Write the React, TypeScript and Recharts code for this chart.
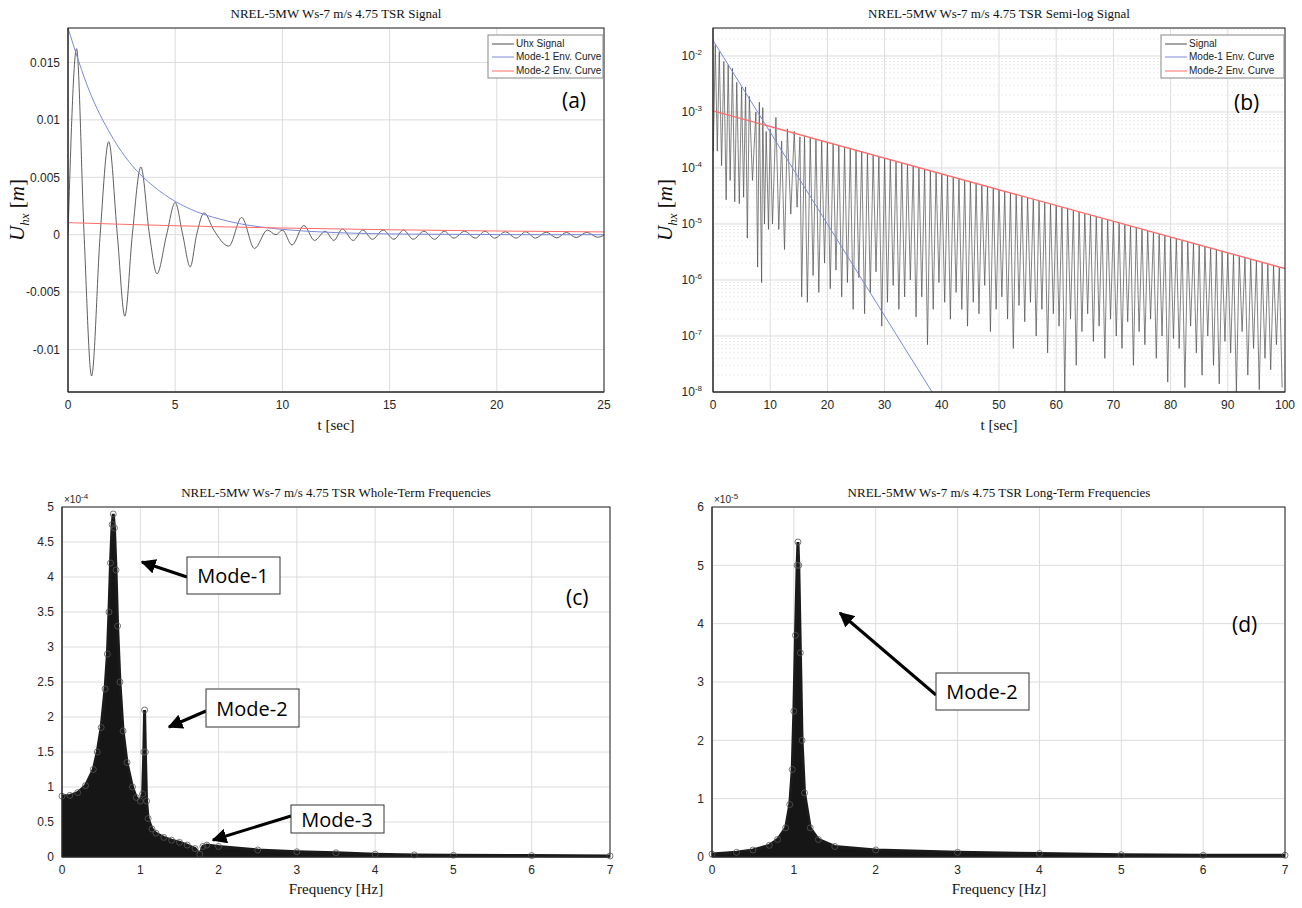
import React from "react";
import {
  ComposedChart,
  Line,
  Area,
  XAxis,
  YAxis,
  CartesianGrid,
  ReferenceLine,
} from "recharts";

// ---------- (a) signal, linear ----------
const sigAT = [0, 0.4, 0.75, 1.1, 1.5, 1.9, 2.3, 2.65, 3.0, 3.4, 3.8, 4.15, 4.6, 5.0, 5.35, 5.7, 6.0, 6.35, 6.8, 7.5, 8.1, 8.7, 9.3, 9.7, 10.0, 10.45, 11.0, 11.5, 12.0, 12.4, 12.8, 13.3, 13.75, 14.2, 14.7, 15.2, 15.65, 16.1, 16.6, 17.1, 17.55, 18.0, 18.5, 19.0, 19.45, 19.9, 20.4, 20.9, 21.35, 21.8, 22.3, 22.8, 23.25, 23.7, 24.2, 24.7, 25];
const sigAU = [0, 0.0162, 0, -0.0123, 0, 0.0081, 0, -0.0071, 0, 0.0059, 0, -0.0034, 0, 0.0028, 0, -0.0028, 0, 0.0019, 0.0004, -0.001, 0.0015, -0.0012, 0.0004, 0, 0.0004, -0.0009, 0.0008, -0.0005, 0.0003, -0.0005, 0.0005, -0.0005, 0.0004, -0.0004, 0.0004, -0.0004, 0.0004, -0.0004, 0.0003, -0.0004, 0.0003, -0.0003, 0.0003, -0.0003, 0.0003, -0.0003, 0.00025, -0.0003, 0.00025, -0.0003, 0.00022, -0.00028, 0.0002, -0.00025, 0.0002, -0.00022, -0.00005];
const env1AT = [0, 1, 2, 3, 4, 5, 6, 7, 8, 9, 10, 12, 14, 16, 18, 20, 22, 25];
const env1AU = [0.018, 0.0125, 0.0087, 0.006, 0.0042, 0.0029, 0.002, 0.0014, 0.00096, 0.00067, 0.00046, 0.00022, 0.0001, 0.00005, 0.00003, 0.00001, 0, 0];
const env2AT = [0, 5, 10, 15, 20, 25];
const env2AU = [0.00105, 0.00078, 0.00058, 0.00043, 0.00032, 0.00024];

// ---------- (b) signal, semi-log ----------
const earlyBT = [0.05, 0.4, 0.75, 1.1, 1.5, 1.9, 2.3, 2.65, 3.0, 3.4, 3.8, 4.15, 4.6, 5.0, 5.35, 5.7, 6.0, 6.35, 6.9, 7.5, 7.8, 8.1, 8.5, 8.7, 9.0, 9.3, 9.7, 10.0, 10.4, 11.0, 11.5, 12.0, 12.5, 13.0, 13.6, 14.2, 14.7, 15.2, 15.5];
const earlyBV = [2e-4, 1.6e-2, 2e-4, 1.2e-2, 1.1e-4, 8e-3, 2.7e-5, 7e-3, 6e-5, 6e-3, 2.5e-5, 3.4e-3, 2.3e-5, 2.8e-3, 3e-5, 2.8e-3, 5.6e-6, 1.9e-3, 6e-5, 1e-3, 1.7e-6, 1.5e-3, 9e-7, 1.2e-3, 1e-5, 4.5e-4, 8e-6, 5e-4, 1e-5, 8e-4, 8e-6, 3e-4, 3.5e-6, 5e-4, 1.5e-5, 4.5e-4, 2e-5, 3.6e-4, 5e-7];
const peakStartB = 16;
const peakB = [
  3.7e-4, 3.5e-4, 3.25e-4, 3.05e-4, 2.86e-4, 2.68e-4, 2.5e-4, 2.35e-4, 2.2e-4, 2.06e-4,
  1.93e-4, 1.81e-4, 1.7e-4, 1.59e-4, 1.49e-4, 1.4e-4, 1.31e-4, 1.23e-4, 1.15e-4, 1.08e-4,
  1.01e-4, 9.45e-5, 8.86e-5, 8.3e-5, 7.78e-5, 7.29e-5, 6.83e-5, 6.4e-5, 6.0e-5, 5.62e-5,
  5.27e-5, 4.94e-5, 4.63e-5, 4.33e-5, 4.06e-5, 3.81e-5, 3.57e-5, 3.34e-5, 3.13e-5, 2.93e-5,
  2.75e-5, 2.58e-5, 2.42e-5, 2.26e-5, 2.12e-5, 1.99e-5, 1.86e-5, 1.75e-5, 1.64e-5, 1.53e-5,
  1.44e-5, 1.35e-5, 1.26e-5, 1.18e-5, 1.11e-5, 1.04e-5, 9.73e-6, 9.12e-6, 8.55e-6, 8.01e-6,
  7.5e-6, 7.03e-6, 6.59e-6, 6.17e-6, 5.78e-6, 5.42e-6, 5.08e-6, 4.76e-6, 4.46e-6, 4.18e-6,
  3.92e-6, 3.67e-6, 3.44e-6, 3.22e-6, 3.02e-6, 2.83e-6, 2.65e-6, 2.48e-6, 2.33e-6, 2.18e-6,
  2.04e-6, 1.91e-6, 1.79e-6, 1.68e-6,
];
const dipB = [
  4e-7, 1.2e-6, 6e-7, 2e-6, 7e-7, 1.5e-6, 5e-7, 9e-7, 3e-7, 1.1e-6,
  2.5e-7, 6e-7, 1.4e-6, 1.5e-7, 4e-7, 8e-7, 3e-7, 5e-7, 1e-6, 2.2e-7,
  5e-7, 7e-8, 3e-7, 9e-7, 4e-7, 2e-7, 6e-7, 3e-7, 1.5e-7, 4e-7,
  2.5e-7, 8e-7, 1.2e-7, 3e-7, 5e-7, 2e-7, 6e-8, 3.5e-7, 1.8e-7, 4e-7,
  1e-7, 3e-7, 5e-8, 2.5e-7, 1.5e-7, 1e-8, 2e-7, 3e-8, 1.2e-7, 2.5e-7,
  8e-8, 1.5e-7, 4e-8, 2e-7, 1e-7, 6e-8, 1.8e-7, 3e-8, 1.2e-7, 7e-8,
  2e-7, 4e-8, 1e-7, 1.5e-8, 9e-8, 6e-8, 1.2e-8, 1.5e-7, 5e-8, 2e-8,
  1e-7, 3e-8, 1.4e-8, 8e-8, 5e-8, 1e-8, 1.2e-7, 2e-8, 6e-8, 1.1e-8,
  4e-8, 2.5e-8, 7e-8, 1.2e-8,
];
const env1BT = [0, 38.3];
const env1BV = [1.9e-2, 1e-8];
const env2BT = [0, 100];
const env2BV = [1.05e-3, 1.6e-6];

// ---------- (c) whole-term spectrum ----------
const freqC = [0, 0.1, 0.2, 0.3, 0.4, 0.45, 0.5, 0.55, 0.58, 0.6, 0.62, 0.64, 0.655, 0.67, 0.69, 0.71, 0.74, 0.78, 0.83, 0.9, 0.95, 1.0, 1.03, 1.045, 1.055, 1.065, 1.08, 1.1, 1.15, 1.2, 1.3, 1.4, 1.5, 1.6, 1.7, 1.76, 1.8, 1.85, 2.0, 2.5, 3.0, 3.5, 4.0, 4.5, 5.0, 6.0, 7.0];
const ampC = [0.87, 0.88, 0.92, 1.02, 1.25, 1.5, 1.85, 2.4, 2.9, 3.5, 4.2, 4.75, 4.9, 4.7, 4.1, 3.3, 2.5, 1.8, 1.35, 1.0, 0.85, 0.8, 0.9, 1.5, 2.1, 1.5, 0.8, 0.55, 0.4, 0.34, 0.28, 0.24, 0.21, 0.17, 0.12, 0.04, 0.15, 0.17, 0.15, 0.1, 0.075, 0.06, 0.04, 0.03, 0.025, 0.02, 0.015].map((v) => v * 1e-4);

// ---------- (d) long-term spectrum ----------
const freqD = [0, 0.3, 0.5, 0.7, 0.8, 0.9, 0.95, 0.98, 1.0, 1.02, 1.04, 1.05, 1.06, 1.08, 1.1, 1.13, 1.2, 1.3, 1.5, 2.0, 3.0, 4.0, 5.0, 6.0, 7.0];
const ampD = [0.05, 0.08, 0.12, 0.2, 0.3, 0.5, 0.9, 1.5, 2.5, 3.8, 5.0, 5.4, 5.0, 3.5, 2.0, 1.1, 0.5, 0.3, 0.18, 0.12, 0.08, 0.06, 0.04, 0.03, 0.03].map((v) => v * 1e-5);

const zip = (xs: number[], ys: number[]) => xs.map((x, i) => ({ x, y: ys[i] }));

const sigA = zip(sigAT, sigAU);
const env1A = zip(env1AT, env1AU);
const env2A = zip(env2AT, env2AU);
const sigB = [
  ...zip(earlyBT, earlyBV),
  ...peakB.flatMap((p, i) => [
    { x: peakStartB + i, y: p },
    { x: peakStartB + i + 0.5, y: dipB[i] },
  ]),
];
const env1B = zip(env1BT, env1BV);
const env2B = zip(env2BT, env2BV);
const specC = zip(freqC, ampC);
const specD = zip(freqD, ampD);

const GRID = "#dcdcdc";
const TICK = { fontSize: 12, fill: "#262626", fontFamily: "Liberation Sans, Arial" };
const SIG = "#4d4d4d";
const BLUE = "#7a8ad8";
const RED = "#ff6b6b";

const minorB: number[] = [];
for (let e = -8; e <= -2; e++) for (let m = 2; m <= 9; m++) if (m * Math.pow(10, e) < 0.0316) minorB.push(m * Math.pow(10, e));

const LogTick = (props: any) => {
  const { x, y, payload } = props;
  const e = Math.round(Math.log10(payload.value));
  return (
    <text x={x - 3} y={y + 4} textAnchor="end" {...TICK}>
      10<tspan dy={-5} fontSize={8}>{e}</tspan>
    </text>
  );
};

const Box = ({ l, t, w, h }: { l: number; t: number; w: number; h: number }) => (
  <rect x={l} y={t} width={w} height={h} fill="none" stroke="#262626" strokeWidth={1} />
);

export default function App() {
  const serif = "Liberation Serif, DejaVu Serif, serif";
  const calibri = "Open Sans, Liberation Sans, sans-serif";
  return (
    <div style={{ position: "absolute", left: 0, top: 0, width: 1302, height: 908, background: "#fff" }}>
      {/* (a) */}
      <div style={{ position: "absolute", left: 0, top: 0 }}>
        <ComposedChart width={620} height={420} margin={{ top: 28, right: 16, left: 0, bottom: 0 }}>
          <CartesianGrid stroke={GRID} />
          <XAxis type="number" dataKey="x" domain={[0, 25]} ticks={[0, 5, 10, 15, 20, 25]} height={28} tick={TICK} tickLine={false} axisLine={{ stroke: "#262626" }} allowDataOverflow />
          <YAxis type="number" dataKey="y" domain={[-0.0137, 0.018]} ticks={[-0.01, -0.005, 0, 0.005, 0.01, 0.015]} width={68} tick={TICK} tickLine={false} axisLine={{ stroke: "#262626" }} allowDataOverflow />
          <Line data={sigA} dataKey="y" type="monotone" stroke={SIG} strokeWidth={0.9} dot={false} isAnimationActive={false} />
          <Line data={env1A} dataKey="y" type="monotone" stroke={BLUE} strokeWidth={1} dot={false} isAnimationActive={false} />
          <Line data={env2A} dataKey="y" type="monotone" stroke={RED} strokeWidth={1} dot={false} isAnimationActive={false} />
        </ComposedChart>
      </div>
      {/* (b) */}
      <div style={{ position: "absolute", left: 650, top: 0 }}>
        <ComposedChart width={650} height={420} margin={{ top: 28, right: 15, left: 0, bottom: 0 }}>
          <CartesianGrid stroke={GRID} />
          {minorB.map((v) => (
            <ReferenceLine key={v} y={v} stroke="#ececec" strokeDasharray="2 2" />
          ))}
          <XAxis type="number" dataKey="x" domain={[0, 100]} ticks={[0, 10, 20, 30, 40, 50, 60, 70, 80, 90, 100]} height={28} tick={TICK} tickLine={false} axisLine={{ stroke: "#262626" }} allowDataOverflow />
          <YAxis type="number" dataKey="y" scale="log" domain={[1e-8, 0.0316]} ticks={[1e-8, 1e-7, 1e-6, 1e-5, 1e-4, 1e-3, 1e-2]} width={63} tick={<LogTick />} tickLine={false} axisLine={{ stroke: "#262626" }} allowDataOverflow />
          <Line data={sigB} dataKey="y" type="linear" stroke={SIG} strokeWidth={0.7} dot={false} isAnimationActive={false} />
          <Line data={env1B} dataKey="y" type="linear" stroke={BLUE} strokeWidth={1} dot={false} isAnimationActive={false} />
          <Line data={env2B} dataKey="y" type="linear" stroke={RED} strokeWidth={1.4} dot={false} isAnimationActive={false} />
        </ComposedChart>
      </div>
      {/* (c) */}
      <div style={{ position: "absolute", left: 0, top: 460 }}>
        <ComposedChart width={630} height={420} margin={{ top: 47, right: 20, left: 0, bottom: 0 }}>
          <CartesianGrid stroke={GRID} />
          <XAxis type="number" dataKey="x" domain={[0, 7]} ticks={[0, 1, 2, 3, 4, 5, 6, 7]} height={23} tick={TICK} tickLine={false} axisLine={{ stroke: "#262626" }} />
          <YAxis type="number" dataKey="y" domain={[0, 5e-4]} ticks={[0, 0.5e-4, 1e-4, 1.5e-4, 2e-4, 2.5e-4, 3e-4, 3.5e-4, 4e-4, 4.5e-4, 5e-4]} tickFormatter={(v: number) => String(Math.round(v * 1e5) / 10)} width={62} tick={TICK} tickLine={false} axisLine={{ stroke: "#262626" }} />
          <Area data={specC} dataKey="y" type="linear" stroke="#1a1a1a" strokeWidth={3} fill="#161616" fillOpacity={1} dot={{ r: 3, stroke: "#555", strokeWidth: 0.8, fill: "none" }} isAnimationActive={false} />
        </ComposedChart>
      </div>
      {/* (d) */}
      <div style={{ position: "absolute", left: 650, top: 460 }}>
        <ComposedChart width={650} height={420} margin={{ top: 47, right: 15, left: 0, bottom: 0 }}>
          <CartesianGrid stroke={GRID} />
          <XAxis type="number" dataKey="x" domain={[0, 7]} ticks={[0, 1, 2, 3, 4, 5, 6, 7]} height={23} tick={TICK} tickLine={false} axisLine={{ stroke: "#262626" }} />
          <YAxis type="number" dataKey="y" domain={[0, 6e-5]} ticks={[0, 1e-5, 2e-5, 3e-5, 4e-5, 5e-5, 6e-5]} tickFormatter={(v: number) => String(Math.round(v * 1e5))} width={62} tick={TICK} tickLine={false} axisLine={{ stroke: "#262626" }} />
          <Area data={specD} dataKey="y" type="linear" stroke="#1a1a1a" strokeWidth={3} fill="#161616" fillOpacity={1} dot={{ r: 3, stroke: "#555", strokeWidth: 0.8, fill: "none" }} isAnimationActive={false} />
        </ComposedChart>
      </div>

      {/* overlay: boxes, titles, labels, legends, annotations */}
      <svg width={1302} height={908} style={{ position: "absolute", left: 0, top: 0, pointerEvents: "none" }}>
        <defs>
          <marker id="ah" viewBox="0 0 10 10" refX="9" refY="5" markerWidth="5" markerHeight="5" orient="auto">
            <path d="M0,0 L10,5 L0,10 z" fill="#000" />
          </marker>
        </defs>
        <Box l={68} t={28} w={536} h={364} />
        <Box l={713} t={28} w={572} h={364} />
        <Box l={62} t={507} w={548} h={350} />
        <Box l={712} t={507} w={573} h={350} />

        <g fontFamily={serif} fill="#111" textAnchor="middle">
          <text x={336} y={18} fontSize={13}>NREL-5MW Ws-7 m/s 4.75 TSR Signal</text>
          <text x={999} y={18} fontSize={13}>NREL-5MW Ws-7 m/s 4.75 TSR Semi-log Signal</text>
          <text x={336} y={497} fontSize={13}>NREL-5MW Ws-7 m/s 4.75 TSR Whole-Term Frequencies</text>
          <text x={999} y={497} fontSize={13}>NREL-5MW Ws-7 m/s 4.75 TSR Long-Term Frequencies</text>
          <text x={336} y={430} fontSize={15}>t [sec]</text>
          <text x={999} y={430} fontSize={15}>t [sec]</text>
          <text x={336} y={894} fontSize={15}>Frequency [Hz]</text>
          <text x={999} y={894} fontSize={15}>Frequency [Hz]</text>
          <text transform="translate(24,210) rotate(-90)" fontSize={21} fontStyle="italic">
            U<tspan fontSize={13} dy={5}>hx</tspan><tspan dy={-5} fontStyle="normal"> [</tspan>m<tspan fontStyle="normal">]</tspan>
          </text>
          <text transform="translate(672,210) rotate(-90)" fontSize={21} fontStyle="italic">
            U<tspan fontSize={13} dy={5}>hx</tspan><tspan dy={-5} fontStyle="normal"> [</tspan>m<tspan fontStyle="normal">]</tspan>
          </text>
        </g>
        <g fontFamily="Liberation Sans, Arial" fill="#262626" fontSize={10}>
          <text x={64} y={503}>×10<tspan dy={-4} fontSize={8}>-4</tspan></text>
          <text x={714} y={503}>×10<tspan dy={-4} fontSize={8}>-5</tspan></text>
        </g>

        {/* legend (a) */}
        <g fontFamily="Liberation Sans, Arial" fontSize={10} fill="#222">
          <rect x={488} y={35} width={115} height={43} fill="#fff" stroke="#888" />
          <line x1={492} y1={44} x2={514} y2={44} stroke={SIG} />
          <text x={516} y={47}>Uhx Signal</text>
          <line x1={492} y1={57} x2={514} y2={57} stroke={BLUE} />
          <text x={516} y={60}>Mode-1 Env. Curve</text>
          <line x1={492} y1={71} x2={514} y2={71} stroke={RED} />
          <text x={516} y={74}>Mode-2 Env. Curve</text>
        </g>
        {/* legend (b) */}
        <g fontFamily="Liberation Sans, Arial" fontSize={10} fill="#222">
          <rect x={1161} y={35} width={123} height={43} fill="#fff" stroke="#888" />
          <line x1={1165} y1={44} x2={1187} y2={44} stroke={SIG} />
          <text x={1189} y={47}>Signal</text>
          <line x1={1165} y1={57} x2={1187} y2={57} stroke={BLUE} />
          <text x={1189} y={60}>Mode-1 Env. Curve</text>
          <line x1={1165} y1={71} x2={1187} y2={71} stroke={RED} />
          <text x={1189} y={74}>Mode-2 Env. Curve</text>
        </g>

        <g fontFamily={calibri} fontSize={21} fill="#000">
          <text x={562} y={108}>(a)</text>
          <text x={1234} y={110}>(b)</text>
          <text x={566} y={605}>(c)</text>
          <text x={1232} y={632}>(d)</text>
        </g>

        {/* annotations */}
        <g fontFamily={calibri} fontSize={20} fill="#000">
          <line x1={187} y1={577} x2={142} y2={562} stroke="#000" strokeWidth={3} markerEnd="url(#ah)" />
          <rect x={187} y={557} width={93} height={37} fill="#fff" stroke="#333" />
          <text x={233} y={583} textAnchor="middle">Mode-1</text>

          <line x1={206} y1={711} x2={169} y2={727} stroke="#000" strokeWidth={3} markerEnd="url(#ah)" />
          <rect x={206} y={689} width={93} height={38} fill="#fff" stroke="#333" />
          <text x={252} y={716} textAnchor="middle">Mode-2</text>

          <line x1={291} y1={816} x2={213} y2={840} stroke="#000" strokeWidth={3} markerEnd="url(#ah)" />
          <rect x={291} y={805} width={93} height={28} fill="#fff" stroke="#333" />
          <text x={337} y={827} textAnchor="middle">Mode-3</text>

          <line x1={936} y1={695} x2={840} y2={613} stroke="#000" strokeWidth={3} markerEnd="url(#ah)" />
          <rect x={936} y={673} width={93} height={37} fill="#fff" stroke="#333" />
          <text x={982} y={699} textAnchor="middle">Mode-2</text>
        </g>
      </svg>
    </div>
  );
}
